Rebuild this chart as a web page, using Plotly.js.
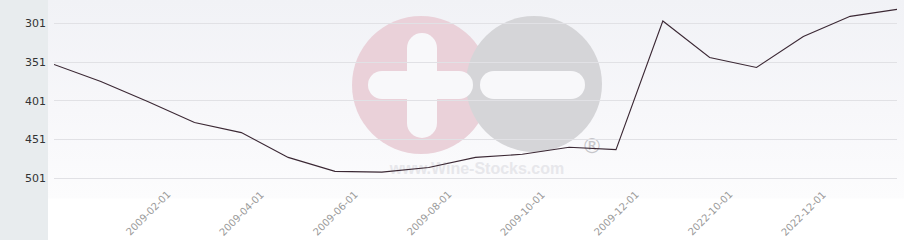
<!DOCTYPE html>
<html>
<head>
<meta charset="utf-8">
<script src="https://cdn.plot.ly/plotly-3.0.1.min.js"></script>
<style>
html,body{margin:0;padding:0;background:#fff;}
#wrap{position:relative;width:904px;height:240px;
 background:
  linear-gradient(to right,#e8ecee 0,#e8ecee 48px,rgba(255,255,255,0) 48px),
  linear-gradient(to bottom,#f1f2f6 0,#f7f7fa 110px,#fcfcfd 198px,#ffffff 199px,#ffffff 240px);}
#chart{width:904px;height:240px;}
</style>
</head>
<body>
<div id="wrap"><div id="chart"></div></div>
<script>
// ---- data ----
var dates = ['2008-12-01','2009-01-01','2009-02-01','2009-03-01','2009-04-01','2009-05-01',
  '2009-06-01','2009-07-01','2009-08-01','2009-09-01','2009-10-01','2009-11-01','2009-12-01',
  '2022-09-01','2022-10-01','2022-11-01','2022-12-01','2023-01-01','2023-02-01'];
var ranks = [354, 376, 402, 429, 442, 474, 492, 493, 487, 474, 470, 461, 464,
  298, 345, 358, 318, 292, 283];
var xLabels = ['2009-02-01','2009-04-01','2009-06-01','2009-08-01','2009-10-01','2009-12-01','2022-10-01','2022-12-01'];
var yTicks = [301, 351, 401, 451, 501];

// ---- layout helpers (pixel -> paper) ----
var L = 54, R = 897, T = 0, B = 198;
function px(x){ return (x - L) / (R - L); }
function py(y){ return 1 - (y - T) / (B - T); }
function circ(cx, cy, r, color){
  return {type:'circle', xref:'paper', yref:'paper', layer:'below',
    x0:px(cx-r), x1:px(cx+r), y0:py(cy+r), y1:py(cy-r),
    fillcolor:color, line:{width:0}};
}
function rect(x0, y0, x1, y1, color){
  return {type:'rect', xref:'paper', yref:'paper', layer:'below',
    x0:px(x0), x1:px(x1), y0:py(y1), y1:py(y0),
    fillcolor:color, line:{width:0}};
}
var W = '#f8f8fa';
var shapes = [
  circ(421, 85, 69, '#ead1d9'),
  circ(534, 84, 68, '#d5d5d8'),
  // plus
  rect(407, 48, 437, 123, W), circ(422, 48, 15, W), circ(422, 123, 15, W),
  rect(382, 71, 459, 99, W), circ(382, 85, 14, W), circ(459, 85, 14, W),
  // minus
  rect(494, 71, 571, 99, W), circ(494, 85, 14, W), circ(571, 85, 14, W),
  // texts
  {type:'rect', xref:'paper', yref:'paper', layer:'below',
   x0:px(377), x1:px(577), y0:py(176), y1:py(156), line:{width:0}, fillcolor:'rgba(0,0,0,0)',
   label:{text:'www.Wine-Stocks.com', textposition:'middle center',
     font:{family:'Liberation Sans, Arial, sans-serif', size:16, color:'#e7e7eb', weight:'bold'}}},
  {type:'rect', xref:'paper', yref:'paper', layer:'below',
   x0:px(580), x1:px(604), y0:py(156), y1:py(132), line:{width:0}, fillcolor:'rgba(0,0,0,0)',
   label:{text:'®', textposition:'middle center',
     font:{family:'DejaVu Sans, sans-serif', size:21, color:'#c6c6ca'}}}
];

var annotations = xLabels.map(function(d){
  return {x:d, xref:'x', y:py(213), yref:'paper', text:d, showarrow:false,
    textangle:-45, xanchor:'center', yanchor:'middle',
    font:{family:'DejaVu Sans, sans-serif', size:10, color:'#9a9a9a'}};
});

var trace = {
  x: dates, y: ranks, type:'scatter', mode:'lines',
  line:{color:'#3b2834', width:1.1}, hoverinfo:'x+y'
};

var layout = {
  width:904, height:240,
  margin:{l:L, r:904-R, t:T, b:240-B, pad:0},
  paper_bgcolor:'rgba(0,0,0,0)', plot_bgcolor:'rgba(0,0,0,0)',
  showlegend:false,
  xaxis:{type:'category', categoryorder:'array', categoryarray:dates,
    range:[0, dates.length-1], showgrid:false, zeroline:false, showline:false,
    showticklabels:false, ticks:''},
  yaxis:{range:[526.4, 270.9], tickvals:yTicks, ticktext:yTicks.map(String),
    showgrid:true, gridcolor:'#e1e1e5', gridwidth:1, zeroline:false, showline:false,
    ticks:'', ticklabelstandoff:7,
    tickfont:{family:'DejaVu Sans, sans-serif', size:11, color:'#333333'}},
  shapes:shapes,
  annotations:annotations
};

Plotly.newPlot('chart', [trace], layout, {displayModeBar:false, staticPlot:true});
</script>
</body>
</html>
